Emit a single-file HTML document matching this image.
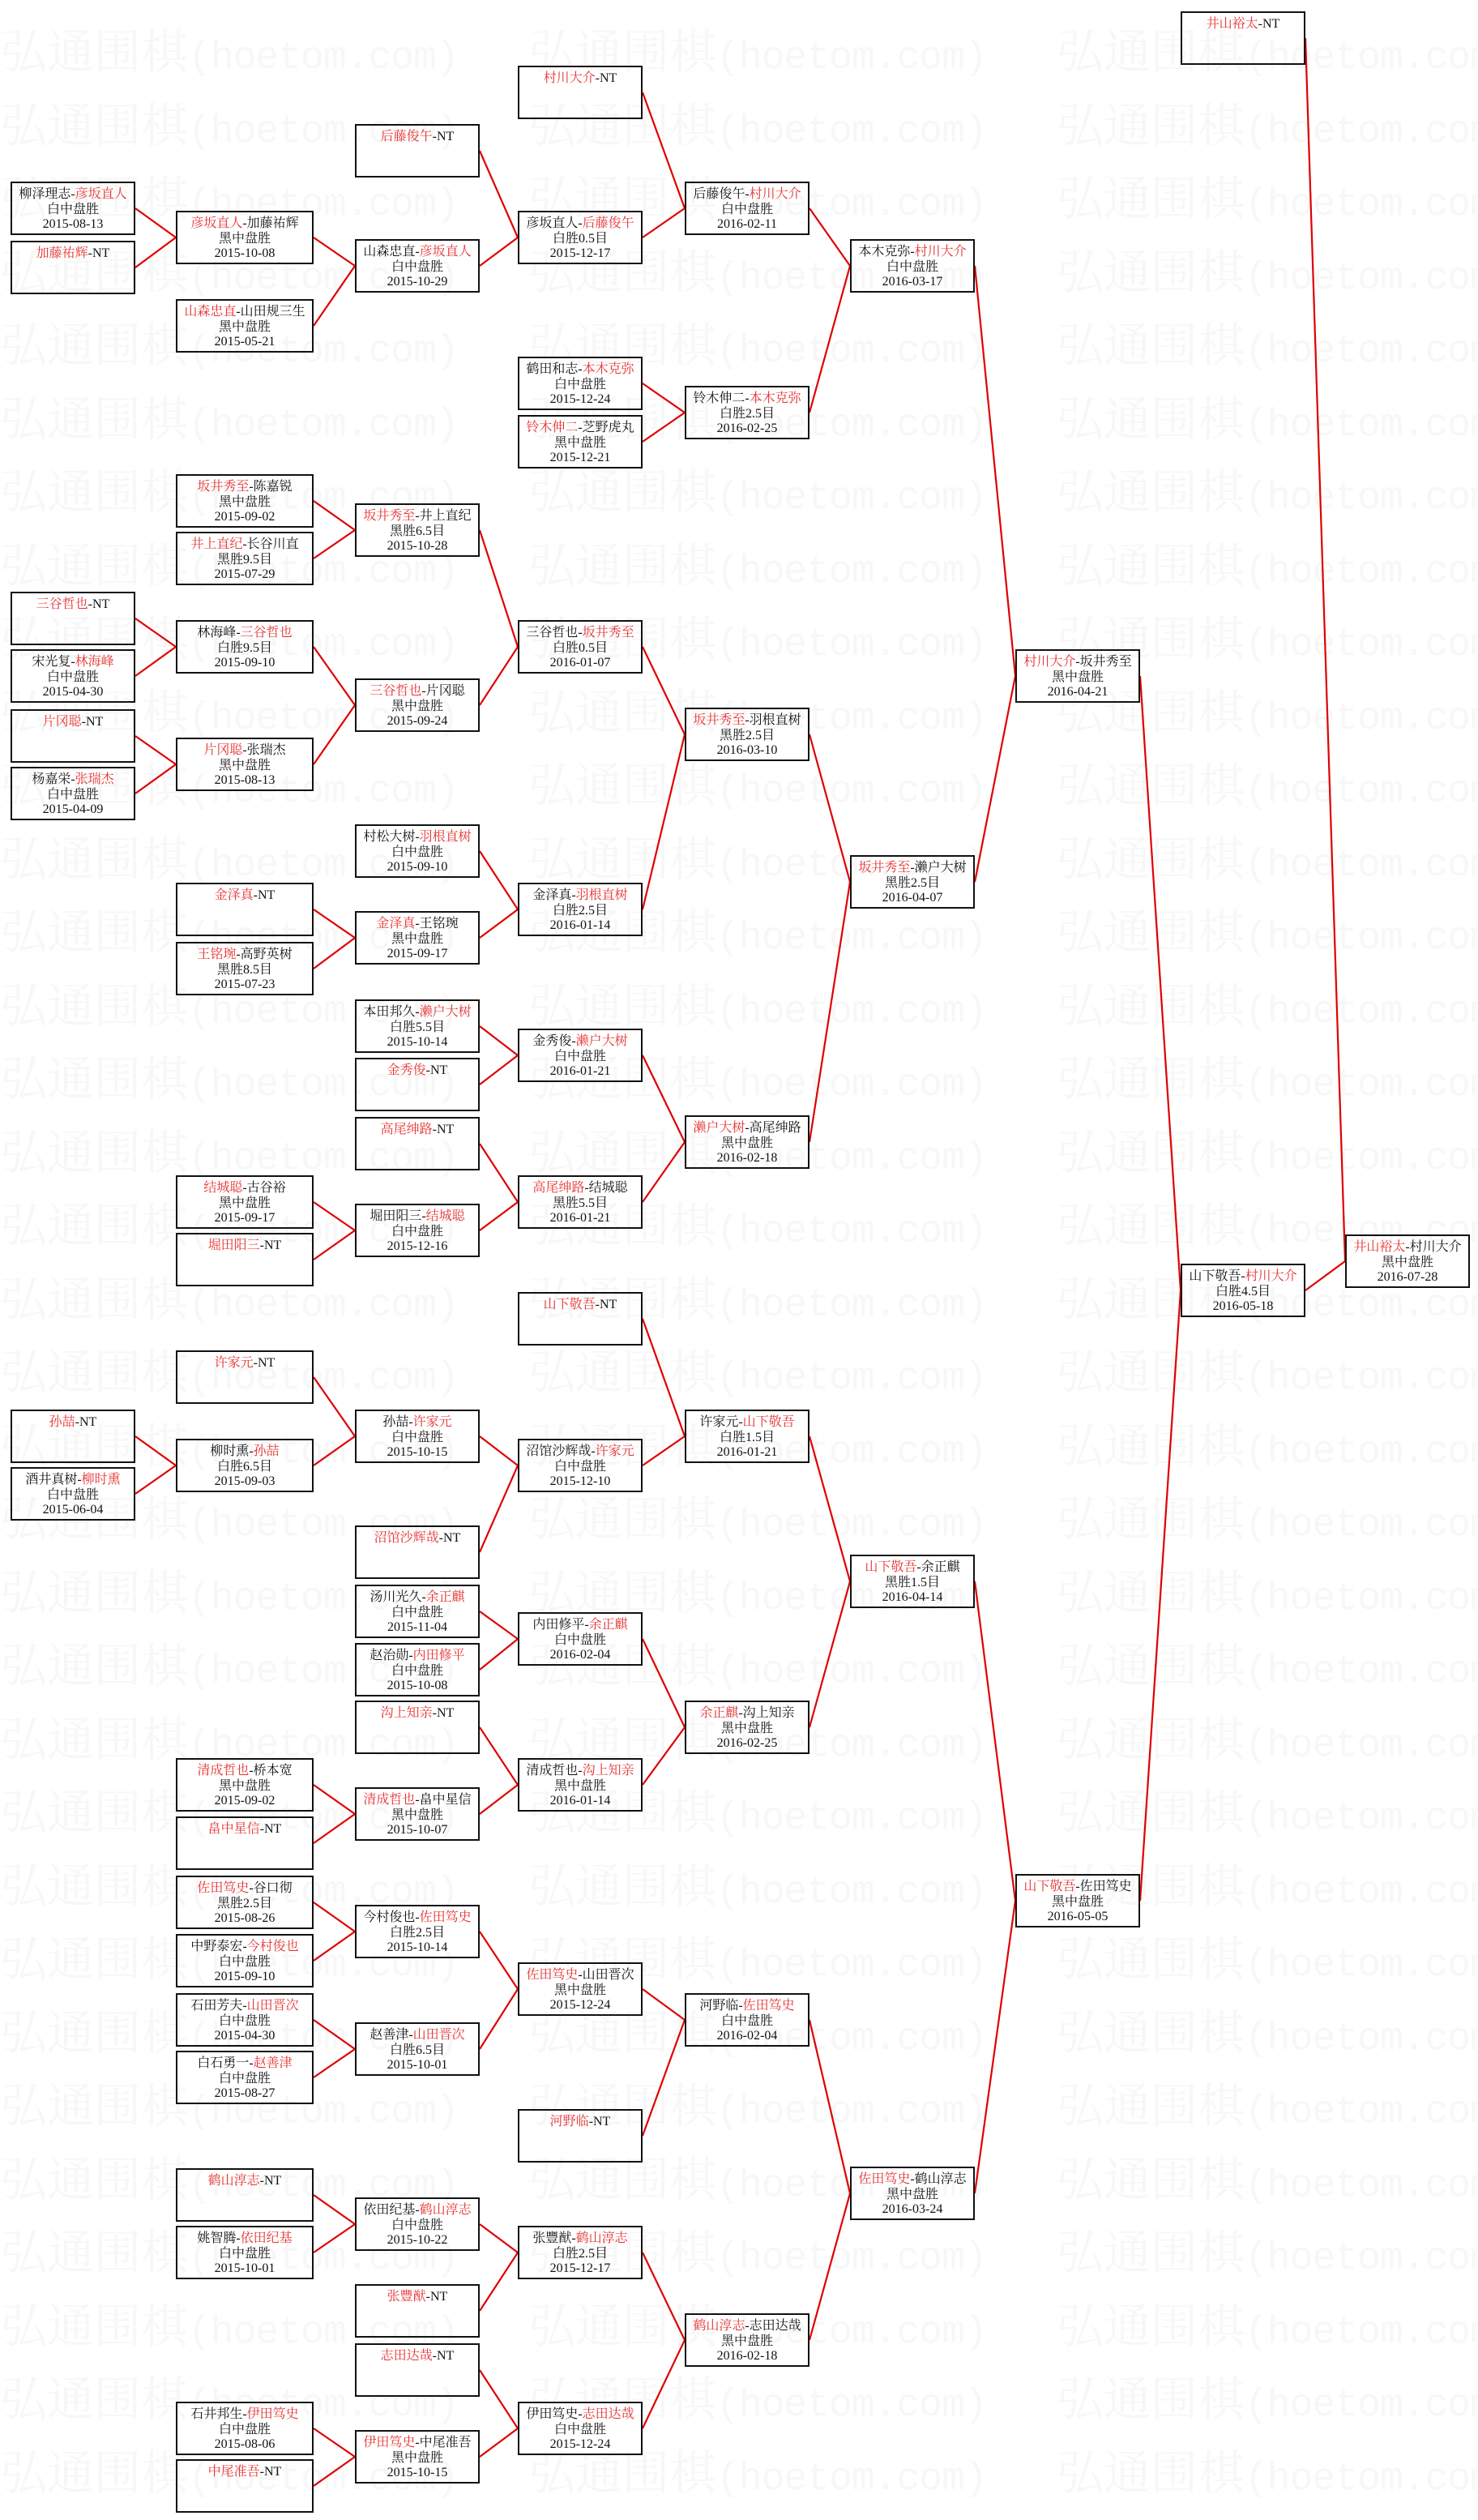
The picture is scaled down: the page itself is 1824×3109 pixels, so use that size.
<!DOCTYPE html>
<html><head><meta charset="utf-8">
<style>
html,body{margin:0;padding:0;}
body{width:1824px;height:3109px;position:relative;overflow:hidden;background:#fff;font-family:"Liberation Serif","Noto Serif CJK SC",serif;}
.wm{position:absolute;left:0;white-space:nowrap;color:#f7f7f7;font-size:58px;line-height:62px;font-family:"Liberation Serif","Noto Serif CJK SC",serif;}
.wm span{display:inline-block;width:652px;overflow:hidden;vertical-align:top;}
.wm i{font-style:normal;font-family:"Liberation Mono","Noto Serif CJK SC",monospace;font-size:48px;letter-spacing:-1px;}
svg{position:absolute;left:0;top:0;}
.b{position:absolute;height:66px;box-sizing:border-box;border:2px solid #111;background:transparent;text-align:center;font-size:16px;line-height:18.5px;padding-top:5px;color:#111;white-space:nowrap;}
.r{color:#e53030;}
.c0{left:13px;width:154px}.c1{left:217px;width:170px}.c2{left:438px;width:154px}.c3{left:639px;width:154px}
.c4{left:845px;width:154px}.c5{left:1049px;width:154px}.c6{left:1253px;width:154px}.c7{left:1457px;width:154px}.c8{left:1660px;width:154px}
</style></head><body>
<div id="wmwrap">
<div class="wm" style="top:34px"><span>弘通围棋<i>(hoetom.com)</i></span><span>弘通围棋<i>(hoetom.com)</i></span><span>弘通围棋<i>(hoetom.com)</i></span></div>
<div class="wm" style="top:125px"><span>弘通围棋<i>(hoetom.com)</i></span><span>弘通围棋<i>(hoetom.com)</i></span><span>弘通围棋<i>(hoetom.com)</i></span></div>
<div class="wm" style="top:215px"><span>弘通围棋<i>(hoetom.com)</i></span><span>弘通围棋<i>(hoetom.com)</i></span><span>弘通围棋<i>(hoetom.com)</i></span></div>
<div class="wm" style="top:306px"><span>弘通围棋<i>(hoetom.com)</i></span><span>弘通围棋<i>(hoetom.com)</i></span><span>弘通围棋<i>(hoetom.com)</i></span></div>
<div class="wm" style="top:396px"><span>弘通围棋<i>(hoetom.com)</i></span><span>弘通围棋<i>(hoetom.com)</i></span><span>弘通围棋<i>(hoetom.com)</i></span></div>
<div class="wm" style="top:487px"><span>弘通围棋<i>(hoetom.com)</i></span><span>弘通围棋<i>(hoetom.com)</i></span><span>弘通围棋<i>(hoetom.com)</i></span></div>
<div class="wm" style="top:577px"><span>弘通围棋<i>(hoetom.com)</i></span><span>弘通围棋<i>(hoetom.com)</i></span><span>弘通围棋<i>(hoetom.com)</i></span></div>
<div class="wm" style="top:668px"><span>弘通围棋<i>(hoetom.com)</i></span><span>弘通围棋<i>(hoetom.com)</i></span><span>弘通围棋<i>(hoetom.com)</i></span></div>
<div class="wm" style="top:758px"><span>弘通围棋<i>(hoetom.com)</i></span><span>弘通围棋<i>(hoetom.com)</i></span><span>弘通围棋<i>(hoetom.com)</i></span></div>
<div class="wm" style="top:849px"><span>弘通围棋<i>(hoetom.com)</i></span><span>弘通围棋<i>(hoetom.com)</i></span><span>弘通围棋<i>(hoetom.com)</i></span></div>
<div class="wm" style="top:939px"><span>弘通围棋<i>(hoetom.com)</i></span><span>弘通围棋<i>(hoetom.com)</i></span><span>弘通围棋<i>(hoetom.com)</i></span></div>
<div class="wm" style="top:1030px"><span>弘通围棋<i>(hoetom.com)</i></span><span>弘通围棋<i>(hoetom.com)</i></span><span>弘通围棋<i>(hoetom.com)</i></span></div>
<div class="wm" style="top:1120px"><span>弘通围棋<i>(hoetom.com)</i></span><span>弘通围棋<i>(hoetom.com)</i></span><span>弘通围棋<i>(hoetom.com)</i></span></div>
<div class="wm" style="top:1211px"><span>弘通围棋<i>(hoetom.com)</i></span><span>弘通围棋<i>(hoetom.com)</i></span><span>弘通围棋<i>(hoetom.com)</i></span></div>
<div class="wm" style="top:1301px"><span>弘通围棋<i>(hoetom.com)</i></span><span>弘通围棋<i>(hoetom.com)</i></span><span>弘通围棋<i>(hoetom.com)</i></span></div>
<div class="wm" style="top:1392px"><span>弘通围棋<i>(hoetom.com)</i></span><span>弘通围棋<i>(hoetom.com)</i></span><span>弘通围棋<i>(hoetom.com)</i></span></div>
<div class="wm" style="top:1482px"><span>弘通围棋<i>(hoetom.com)</i></span><span>弘通围棋<i>(hoetom.com)</i></span><span>弘通围棋<i>(hoetom.com)</i></span></div>
<div class="wm" style="top:1573px"><span>弘通围棋<i>(hoetom.com)</i></span><span>弘通围棋<i>(hoetom.com)</i></span><span>弘通围棋<i>(hoetom.com)</i></span></div>
<div class="wm" style="top:1663px"><span>弘通围棋<i>(hoetom.com)</i></span><span>弘通围棋<i>(hoetom.com)</i></span><span>弘通围棋<i>(hoetom.com)</i></span></div>
<div class="wm" style="top:1754px"><span>弘通围棋<i>(hoetom.com)</i></span><span>弘通围棋<i>(hoetom.com)</i></span><span>弘通围棋<i>(hoetom.com)</i></span></div>
<div class="wm" style="top:1844px"><span>弘通围棋<i>(hoetom.com)</i></span><span>弘通围棋<i>(hoetom.com)</i></span><span>弘通围棋<i>(hoetom.com)</i></span></div>
<div class="wm" style="top:1935px"><span>弘通围棋<i>(hoetom.com)</i></span><span>弘通围棋<i>(hoetom.com)</i></span><span>弘通围棋<i>(hoetom.com)</i></span></div>
<div class="wm" style="top:2025px"><span>弘通围棋<i>(hoetom.com)</i></span><span>弘通围棋<i>(hoetom.com)</i></span><span>弘通围棋<i>(hoetom.com)</i></span></div>
<div class="wm" style="top:2116px"><span>弘通围棋<i>(hoetom.com)</i></span><span>弘通围棋<i>(hoetom.com)</i></span><span>弘通围棋<i>(hoetom.com)</i></span></div>
<div class="wm" style="top:2206px"><span>弘通围棋<i>(hoetom.com)</i></span><span>弘通围棋<i>(hoetom.com)</i></span><span>弘通围棋<i>(hoetom.com)</i></span></div>
<div class="wm" style="top:2297px"><span>弘通围棋<i>(hoetom.com)</i></span><span>弘通围棋<i>(hoetom.com)</i></span><span>弘通围棋<i>(hoetom.com)</i></span></div>
<div class="wm" style="top:2387px"><span>弘通围棋<i>(hoetom.com)</i></span><span>弘通围棋<i>(hoetom.com)</i></span><span>弘通围棋<i>(hoetom.com)</i></span></div>
<div class="wm" style="top:2478px"><span>弘通围棋<i>(hoetom.com)</i></span><span>弘通围棋<i>(hoetom.com)</i></span><span>弘通围棋<i>(hoetom.com)</i></span></div>
<div class="wm" style="top:2568px"><span>弘通围棋<i>(hoetom.com)</i></span><span>弘通围棋<i>(hoetom.com)</i></span><span>弘通围棋<i>(hoetom.com)</i></span></div>
<div class="wm" style="top:2659px"><span>弘通围棋<i>(hoetom.com)</i></span><span>弘通围棋<i>(hoetom.com)</i></span><span>弘通围棋<i>(hoetom.com)</i></span></div>
<div class="wm" style="top:2749px"><span>弘通围棋<i>(hoetom.com)</i></span><span>弘通围棋<i>(hoetom.com)</i></span><span>弘通围棋<i>(hoetom.com)</i></span></div>
<div class="wm" style="top:2840px"><span>弘通围棋<i>(hoetom.com)</i></span><span>弘通围棋<i>(hoetom.com)</i></span><span>弘通围棋<i>(hoetom.com)</i></span></div>
<div class="wm" style="top:2930px"><span>弘通围棋<i>(hoetom.com)</i></span><span>弘通围棋<i>(hoetom.com)</i></span><span>弘通围棋<i>(hoetom.com)</i></span></div>
<div class="wm" style="top:3021px"><span>弘通围棋<i>(hoetom.com)</i></span><span>弘通围棋<i>(hoetom.com)</i></span><span>弘通围棋<i>(hoetom.com)</i></span></div>
</div>

<svg width="1824" height="3109" viewBox="0 0 1824 3109">
<g fill="none" stroke="#e00000" stroke-width="2.2">
<polyline points="167,257 217,293 167,330"/>
<polyline points="167,763 217,798 167,834"/>
<polyline points="167,908 217,943 167,979"/>
<polyline points="167,1772 217,1808 167,1843"/>
<polyline points="387,293 438,328 387,402"/>
<polyline points="387,618 438,654 387,689"/>
<polyline points="387,798 438,870 387,943"/>
<polyline points="387,1122 438,1157 387,1195"/>
<polyline points="387,1483 438,1518 387,1554"/>
<polyline points="387,1699 438,1772 387,1808"/>
<polyline points="387,2202 438,2238 387,2274"/>
<polyline points="387,2347 438,2383 387,2419"/>
<polyline points="387,2492 438,2528 387,2563"/>
<polyline points="387,2708 438,2744 387,2779"/>
<polyline points="387,2996 438,3031 387,3067"/>
<polyline points="592,186 639,293 592,328"/>
<polyline points="592,654 639,798 592,870"/>
<polyline points="592,1050 639,1122 592,1157"/>
<polyline points="592,1266 639,1302 592,1338"/>
<polyline points="592,1411 639,1483 592,1518"/>
<polyline points="592,1772 639,1808 592,1915"/>
<polyline points="592,1988 639,2022 592,2060"/>
<polyline points="592,2131 639,2202 592,2238"/>
<polyline points="592,2383 639,2454 592,2528"/>
<polyline points="592,2744 639,2779 592,2851"/>
<polyline points="592,2924 639,2996 592,3031"/>
<polyline points="793,114 845,257 793,293"/>
<polyline points="793,473 845,509 793,545"/>
<polyline points="793,798 845,906 793,1122"/>
<polyline points="793,1302 845,1409 793,1483"/>
<polyline points="793,1627 845,1772 793,1808"/>
<polyline points="793,2022 845,2131 793,2202"/>
<polyline points="793,2454 845,2492 793,2635"/>
<polyline points="793,2779 845,2887 793,2996"/>
<polyline points="999,257 1049,328 999,509"/>
<polyline points="999,906 1049,1088 999,1409"/>
<polyline points="999,1772 1049,1951 999,2131"/>
<polyline points="999,2492 1049,2706 999,2887"/>
<polyline points="1203,328 1253,834 1203,1088"/>
<polyline points="1203,1951 1253,2345 1203,2706"/>
<polyline points="1407,834 1457,1592 1407,2345"/>
<polyline points="1611,47 1660,1556 1611,1592"/>
</g>
</svg>

<div class="b c0" style="top:224px">柳泽理志-<span class="r">彦坂直人</span><br>白中盘胜<br>2015-08-13</div>
<div class="b c0" style="top:297px"><span class="r">加藤祐辉</span>-NT</div>
<div class="b c0" style="top:730px"><span class="r">三谷哲也</span>-NT</div>
<div class="b c0" style="top:801px">宋光复-<span class="r">林海峰</span><br>白中盘胜<br>2015-04-30</div>
<div class="b c0" style="top:875px"><span class="r">片冈聪</span>-NT</div>
<div class="b c0" style="top:946px">杨嘉栄-<span class="r">张瑞杰</span><br>白中盘胜<br>2015-04-09</div>
<div class="b c0" style="top:1739px"><span class="r">孙喆</span>-NT</div>
<div class="b c0" style="top:1810px">酒井真树-<span class="r">柳时熏</span><br>白中盘胜<br>2015-06-04</div>

<div class="b c1" style="top:260px"><span class="r">彦坂直人</span>-加藤祐辉<br>黑中盘胜<br>2015-10-08</div>
<div class="b c1" style="top:369px"><span class="r">山森忠直</span>-山田规三生<br>黑中盘胜<br>2015-05-21</div>
<div class="b c1" style="top:585px"><span class="r">坂井秀至</span>-陈嘉锐<br>黑中盘胜<br>2015-09-02</div>
<div class="b c1" style="top:656px"><span class="r">井上直纪</span>-长谷川直<br>黑胜9.5目<br>2015-07-29</div>
<div class="b c1" style="top:765px">林海峰-<span class="r">三谷哲也</span><br>白胜9.5目<br>2015-09-10</div>
<div class="b c1" style="top:910px"><span class="r">片冈聪</span>-张瑞杰<br>黑中盘胜<br>2015-08-13</div>
<div class="b c1" style="top:1089px"><span class="r">金泽真</span>-NT</div>
<div class="b c1" style="top:1162px"><span class="r">王铭琬</span>-高野英树<br>黑胜8.5目<br>2015-07-23</div>
<div class="b c1" style="top:1450px"><span class="r">结城聪</span>-古谷裕<br>黑中盘胜<br>2015-09-17</div>
<div class="b c1" style="top:1521px"><span class="r">堀田阳三</span>-NT</div>
<div class="b c1" style="top:1666px"><span class="r">许家元</span>-NT</div>
<div class="b c1" style="top:1775px">柳时熏-<span class="r">孙喆</span><br>白胜6.5目<br>2015-09-03</div>
<div class="b c1" style="top:2169px"><span class="r">清成哲也</span>-桥本宽<br>黑中盘胜<br>2015-09-02</div>
<div class="b c1" style="top:2241px"><span class="r">畠中星信</span>-NT</div>
<div class="b c1" style="top:2314px"><span class="r">佐田笃史</span>-谷口彻<br>黑胜2.5目<br>2015-08-26</div>
<div class="b c1" style="top:2386px">中野泰宏-<span class="r">今村俊也</span><br>白中盘胜<br>2015-09-10</div>
<div class="b c1" style="top:2459px">石田芳夫-<span class="r">山田晋次</span><br>白中盘胜<br>2015-04-30</div>
<div class="b c1" style="top:2530px">白石勇一-<span class="r">赵善津</span><br>白中盘胜<br>2015-08-27</div>
<div class="b c1" style="top:2675px"><span class="r">鹤山淳志</span>-NT</div>
<div class="b c1" style="top:2746px">姚智腾-<span class="r">依田纪基</span><br>白中盘胜<br>2015-10-01</div>
<div class="b c1" style="top:2963px">石井邦生-<span class="r">伊田笃史</span><br>白中盘胜<br>2015-08-06</div>
<div class="b c1" style="top:3034px"><span class="r">中尾准吾</span>-NT</div>

<div class="b c2" style="top:153px"><span class="r">后藤俊午</span>-NT</div>
<div class="b c2" style="top:295px">山森忠直-<span class="r">彦坂直人</span><br>白中盘胜<br>2015-10-29</div>
<div class="b c2" style="top:621px"><span class="r">坂井秀至</span>-井上直纪<br>黑胜6.5目<br>2015-10-28</div>
<div class="b c2" style="top:837px"><span class="r">三谷哲也</span>-片冈聪<br>黑中盘胜<br>2015-09-24</div>
<div class="b c2" style="top:1017px">村松大树-<span class="r">羽根直树</span><br>白中盘胜<br>2015-09-10</div>
<div class="b c2" style="top:1124px"><span class="r">金泽真</span>-王铭琬<br>黑中盘胜<br>2015-09-17</div>
<div class="b c2" style="top:1233px">本田邦久-<span class="r">濑户大树</span><br>白胜5.5目<br>2015-10-14</div>
<div class="b c2" style="top:1305px"><span class="r">金秀俊</span>-NT</div>
<div class="b c2" style="top:1378px"><span class="r">高尾绅路</span>-NT</div>
<div class="b c2" style="top:1485px">堀田阳三-<span class="r">结城聪</span><br>白中盘胜<br>2015-12-16</div>
<div class="b c2" style="top:1739px">孙喆-<span class="r">许家元</span><br>白中盘胜<br>2015-10-15</div>
<div class="b c2" style="top:1882px"><span class="r">沼馆沙辉哉</span>-NT</div>
<div class="b c2" style="top:1955px">汤川光久-<span class="r">余正麒</span><br>白中盘胜<br>2015-11-04</div>
<div class="b c2" style="top:2027px">赵治勋-<span class="r">内田修平</span><br>白中盘胜<br>2015-10-08</div>
<div class="b c2" style="top:2098px"><span class="r">沟上知亲</span>-NT</div>
<div class="b c2" style="top:2205px"><span class="r">清成哲也</span>-畠中星信<br>黑中盘胜<br>2015-10-07</div>
<div class="b c2" style="top:2350px">今村俊也-<span class="r">佐田笃史</span><br>白胜2.5目<br>2015-10-14</div>
<div class="b c2" style="top:2495px">赵善津-<span class="r">山田晋次</span><br>白胜6.5目<br>2015-10-01</div>
<div class="b c2" style="top:2711px">依田纪基-<span class="r">鹤山淳志</span><br>白中盘胜<br>2015-10-22</div>
<div class="b c2" style="top:2818px"><span class="r">张豐猷</span>-NT</div>
<div class="b c2" style="top:2891px"><span class="r">志田达哉</span>-NT</div>
<div class="b c2" style="top:2998px"><span class="r">伊田笃史</span>-中尾准吾<br>黑中盘胜<br>2015-10-15</div>

<div class="b c3" style="top:81px"><span class="r">村川大介</span>-NT</div>
<div class="b c3" style="top:260px">彦坂直人-<span class="r">后藤俊午</span><br>白胜0.5目<br>2015-12-17</div>
<div class="b c3" style="top:440px">鹤田和志-<span class="r">本木克弥</span><br>白中盘胜<br>2015-12-24</div>
<div class="b c3" style="top:512px"><span class="r">铃木伸二</span>-芝野虎丸<br>黑中盘胜<br>2015-12-21</div>
<div class="b c3" style="top:765px">三谷哲也-<span class="r">坂井秀至</span><br>白胜0.5目<br>2016-01-07</div>
<div class="b c3" style="top:1089px">金泽真-<span class="r">羽根直树</span><br>白胜2.5目<br>2016-01-14</div>
<div class="b c3" style="top:1269px">金秀俊-<span class="r">濑户大树</span><br>白中盘胜<br>2016-01-21</div>
<div class="b c3" style="top:1450px"><span class="r">高尾绅路</span>-结城聪<br>黑胜5.5目<br>2016-01-21</div>
<div class="b c3" style="top:1594px"><span class="r">山下敬吾</span>-NT</div>
<div class="b c3" style="top:1775px">沼馆沙辉哉-<span class="r">许家元</span><br>白中盘胜<br>2015-12-10</div>
<div class="b c3" style="top:1989px">内田修平-<span class="r">余正麒</span><br>白中盘胜<br>2016-02-04</div>
<div class="b c3" style="top:2169px">清成哲也-<span class="r">沟上知亲</span><br>黑中盘胜<br>2016-01-14</div>
<div class="b c3" style="top:2421px"><span class="r">佐田笃史</span>-山田晋次<br>黑中盘胜<br>2015-12-24</div>
<div class="b c3" style="top:2602px"><span class="r">河野临</span>-NT</div>
<div class="b c3" style="top:2746px">张豐猷-<span class="r">鹤山淳志</span><br>白胜2.5目<br>2015-12-17</div>
<div class="b c3" style="top:2963px">伊田笃史-<span class="r">志田达哉</span><br>白中盘胜<br>2015-12-24</div>

<div class="b c4" style="top:224px">后藤俊午-<span class="r">村川大介</span><br>白中盘胜<br>2016-02-11</div>
<div class="b c4" style="top:476px">铃木伸二-<span class="r">本木克弥</span><br>白胜2.5目<br>2016-02-25</div>
<div class="b c4" style="top:873px"><span class="r">坂井秀至</span>-羽根直树<br>黑胜2.5目<br>2016-03-10</div>
<div class="b c4" style="top:1376px"><span class="r">濑户大树</span>-高尾绅路<br>黑中盘胜<br>2016-02-18</div>
<div class="b c4" style="top:1739px">许家元-<span class="r">山下敬吾</span><br>白胜1.5目<br>2016-01-21</div>
<div class="b c4" style="top:2098px"><span class="r">余正麒</span>-沟上知亲<br>黑中盘胜<br>2016-02-25</div>
<div class="b c4" style="top:2459px">河野临-<span class="r">佐田笃史</span><br>白中盘胜<br>2016-02-04</div>
<div class="b c4" style="top:2854px"><span class="r">鹤山淳志</span>-志田达哉<br>黑中盘胜<br>2016-02-18</div>

<div class="b c5" style="top:295px">本木克弥-<span class="r">村川大介</span><br>白中盘胜<br>2016-03-17</div>
<div class="b c5" style="top:1055px"><span class="r">坂井秀至</span>-濑户大树<br>黑胜2.5目<br>2016-04-07</div>
<div class="b c5" style="top:1918px"><span class="r">山下敬吾</span>-余正麒<br>黑胜1.5目<br>2016-04-14</div>
<div class="b c5" style="top:2673px"><span class="r">佐田笃史</span>-鹤山淳志<br>黑中盘胜<br>2016-03-24</div>

<div class="b c6" style="top:801px"><span class="r">村川大介</span>-坂井秀至<br>黑中盘胜<br>2016-04-21</div>
<div class="b c6" style="top:2312px"><span class="r">山下敬吾</span>-佐田笃史<br>黑中盘胜<br>2016-05-05</div>

<div class="b c7" style="top:14px"><span class="r">井山裕太</span>-NT</div>
<div class="b c7" style="top:1559px">山下敬吾-<span class="r">村川大介</span><br>白胜4.5目<br>2016-05-18</div>

<div class="b c8" style="top:1523px"><span class="r">井山裕太</span>-村川大介<br>黑中盘胜<br>2016-07-28</div>
</body></html>
